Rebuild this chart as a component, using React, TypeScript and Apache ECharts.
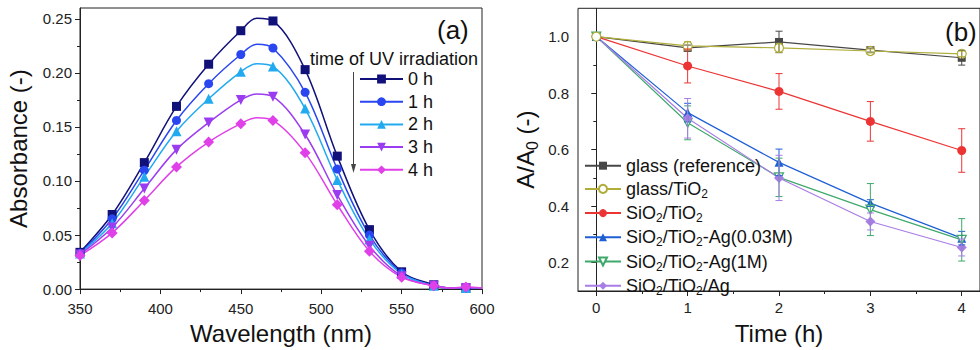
import React, { useEffect, useRef } from "react";
import * as echarts from "echarts";

const FONT = "'Liberation Sans', Arial, Helvetica, sans-serif";

// ---------- Panel (a): absorbance spectra ----------
const wavelengths = [350, 370, 390, 410, 430, 450, 460, 470, 490, 510, 530, 550, 570, 580, 590, 600];
const markerShown = [true, true, true, true, true, true, false, true, true, true, true, true, true, false, true, false];
const abs0h = [0.034, 0.069, 0.117, 0.169, 0.208, 0.239, 0.2505, 0.248, 0.203, 0.123, 0.055, 0.016, 0.004, 0.001, 0.001, 0.001];
const abs1h = [0.033, 0.065, 0.110, 0.156, 0.190, 0.217, 0.2265, 0.223, 0.182, 0.111, 0.050, 0.015, 0.003, 0.001, 0.001, 0.001];
const abs2h = [0.033, 0.061, 0.104, 0.146, 0.176, 0.201, 0.2085, 0.206, 0.167, 0.101, 0.046, 0.014, 0.003, 0.001, 0.001, 0.001];
const abs3h = [0.032, 0.057, 0.093, 0.129, 0.154, 0.175, 0.1805, 0.178, 0.143, 0.087, 0.040, 0.012, 0.003, 0.001, 0.001, 0.001];
const abs4h = [0.031, 0.052, 0.082, 0.113, 0.136, 0.153, 0.1585, 0.156, 0.126, 0.078, 0.035, 0.011, 0.003, 0.001, 0.002, 0.001];
const spectraNames = ["0 h", "1 h", "2 h", "3 h", "4 h"];
const absTicks = [0, 0.05, 0.1, 0.15, 0.2, 0.25];
const absMinorTicks = [0.025, 0.075, 0.125, 0.175, 0.225];

// ---------- Panel (b): A/A0 vs time ----------
const timeH = [0, 1, 2, 3, 4];
const glassRef = [1.0, 0.96, 0.981, 0.952, 0.925];
const glassRefErr = [0, 0.01, 0.038, 0.007, 0.026];
const glassTiO2 = [1.0, 0.967, 0.96, 0.949, 0.939];
const glassTiO2Err = [0, 0.015, 0.016, 0.007, 0.01];
const sio2TiO2 = [1.0, 0.896, 0.806, 0.7, 0.597];
const sio2TiO2Err = [0, 0.06, 0.063, 0.07, 0.077];
const ag003 = [1.0, 0.731, 0.555, 0.411, 0.287];
const ag003Err = [0, 0.033, 0.047, 0.012, 0.024];
const ag1M = [1.0, 0.695, 0.502, 0.388, 0.281];
const ag1MErr = [0, 0.06, 0.068, 0.092, 0.075];
const agSep = [1.0, 0.711, 0.5, 0.346, 0.254];
const agSepErr = [0, 0.07, 0.08, 0.03, 0.03];
const ratioNames = [
  "glass (reference)",
  "glass/TiO2",
  "SiO2/TiO2",
  "SiO2/TiO2-Ag(0.03M)",
  "SiO2/TiO2-Ag(1M)",
  "SiO2/TiO2/Ag",
];
const timeTicks = [0, 1, 2, 3, 4];
const timeMinorTicks = [0.5, 1.5, 2.5, 3.5];
const ratioTicks = [0.2, 0.4, 0.6, 0.8, 1.0];
const ratioMinorTicks = [0.3, 0.5, 0.7, 0.9];

const AXIS = "#222";

function spectrumSeries(name: string, vals: number[], color: string, symbol: string, size: number, rotate = 0) {
  return {
    type: "line",
    name,
    xAxisIndex: 0,
    yAxisIndex: 0,
    smooth: 0.35,
    symbol,
    symbolSize: size,
    symbolRotate: rotate,
    showAllSymbol: true,
    data: wavelengths.map((w, i) =>
      markerShown[i] ? { value: [w, vals[i]] } : { value: [w, vals[i]], symbol: "none" }
    ),
    lineStyle: { color, width: 1.5 },
    itemStyle: { color },
    emphasis: { disabled: true },
    z: 2,
  };
}

function ratioSeries(name: string, vals: number[], color: string, symbol: string, size: number, open = false, rotate = 0, z = 2) {
  return {
    type: "line",
    name,
    xAxisIndex: 1,
    yAxisIndex: 2,
    symbol,
    symbolSize: size,
    symbolRotate: rotate,
    data: timeH.map((t, i) => [t, vals[i]]),
    lineStyle: { color, width: 1.2 },
    itemStyle: open ? { color: "#fff", borderColor: color, borderWidth: 1.2 } : { color },
    emphasis: { disabled: true },
    z,
  };
}

function errorSeries(vals: number[], errs: number[], color: string) {
  return {
    type: "custom",
    xAxisIndex: 1,
    yAxisIndex: 2,
    silent: true,
    z: 4,
    encode: { x: 0, y: [1, 2] },
    data: timeH
      .map((t, i) => [t, vals[i] - errs[i], vals[i] + errs[i]])
      .filter((_, i) => errs[i] > 0),
    renderItem: (_params: any, api: any) => {
      const lo = api.coord([api.value(0), api.value(1)]);
      const hi = api.coord([api.value(0), api.value(2)]);
      const w = 3.5;
      const st = { stroke: color, lineWidth: 1 };
      return {
        type: "group",
        children: [
          { type: "line", shape: { x1: hi[0], y1: hi[1], x2: lo[0], y2: lo[1] }, style: st },
          { type: "line", shape: { x1: hi[0] - w, y1: hi[1], x2: hi[0] + w, y2: hi[1] }, style: st },
          { type: "line", shape: { x1: lo[0] - w, y1: lo[1], x2: lo[0] + w, y2: lo[1] }, style: st },
        ],
      };
    },
  };
}

const C0 = "#11117a";
const C1 = "#2a46f0";
const C2 = "#22aaf0";
const C3 = "#9b3cf0";
const C4 = "#e040e8";

const RG = "#474747";
const RO = "#b0ad3a";
const RR = "#ec3434";
const RB = "#1f5fd6";
const RGn = "#3fa86c";
const RP = "#a87de6";

export default function App() {
  const ref = useRef<HTMLDivElement>(null);

  useEffect(() => {
    if (!ref.current) return;
    const chart = echarts.init(ref.current, null, { renderer: "svg" });

    const subRichLegend = {
      s: { fontSize: 12, lineHeight: 12, padding: [9, 0, 0, 0], verticalAlign: "top", fontFamily: FONT, color: "#111" },
    };

    const option: any = {
      animation: false,
      backgroundColor: "#fff",
      textStyle: { fontFamily: FONT },
      grid: [
        { left: 80, top: 8, width: 402, height: 293.5, show: true, borderColor: AXIS, borderWidth: 1, containLabel: false },
        { left: 578, top: 8.3, width: 403.6, height: 284.3, show: true, borderColor: AXIS, borderWidth: 1, containLabel: false },
      ],
      xAxis: [
        {
          type: "value",
          gridIndex: 0,
          min: 350,
          max: 600,
          interval: 50,
          name: "Wavelength (nm)",
          nameLocation: "middle",
          nameGap: 31,
          nameTextStyle: { fontSize: 24, color: "#111", fontFamily: FONT },
          axisLine: { lineStyle: { color: AXIS, width: 1 } },
          axisTick: { length: 5, lineStyle: { color: AXIS } },
          minorTick: { show: true, splitNumber: 2, length: 3, lineStyle: { color: AXIS } },
          axisLabel: { fontSize: 15, color: "#222", margin: 12, fontFamily: FONT },
          splitLine: { show: false },
          minorSplitLine: { show: false },
        },
        {
          type: "value",
          gridIndex: 1,
          min: -0.2,
          max: 4.2,
          name: "Time (h)",
          nameLocation: "middle",
          nameGap: 30,
          nameTextStyle: { fontSize: 24, color: "#111", fontFamily: FONT },
          axisLine: { lineStyle: { color: AXIS, width: 1 } },
          axisTick: { length: 5, lineStyle: { color: AXIS }, customValues: timeTicks },
          axisLabel: { fontSize: 15, color: "#222", margin: 9, fontFamily: FONT, customValues: timeTicks },
          splitLine: { show: false },
        },
        {
          type: "value",
          gridIndex: 1,
          min: -0.2,
          max: 4.2,
          position: "bottom",
          offset: 0,
          axisLine: { show: false },
          axisTick: { length: 3, lineStyle: { color: AXIS }, customValues: timeMinorTicks },
          axisLabel: { show: false },
          splitLine: { show: false },
        },
      ],
      yAxis: [
        {
          type: "value",
          gridIndex: 0,
          min: 0,
          max: 0.26,
          name: "Absorbance (-)",
          nameLocation: "middle",
          nameGap: 50,
          nameRotate: 90,
          nameTextStyle: { fontSize: 24, color: "#111", fontFamily: FONT },
          axisLine: { show: true, lineStyle: { color: AXIS, width: 1 } },
          axisTick: { show: true, length: 5, lineStyle: { color: AXIS }, customValues: absTicks },
          axisLabel: {
            fontSize: 15,
            color: "#222",
            margin: 8,
            fontFamily: FONT,
            customValues: absTicks,
            formatter: (v: number) => v.toFixed(2),
          },
          splitLine: { show: false },
        },
        {
          type: "value",
          gridIndex: 0,
          min: 0,
          max: 0.26,
          position: "left",
          offset: 0,
          axisLine: { show: false },
          axisTick: { show: true, length: 3, lineStyle: { color: AXIS }, customValues: absMinorTicks },
          axisLabel: { show: false },
          splitLine: { show: false },
        },
        {
          type: "value",
          gridIndex: 1,
          min: 0.1,
          max: 1.1,
          name: "A/A{s|0} (-)",
          nameLocation: "middle",
          nameGap: 38,
          nameRotate: 90,
          nameTextStyle: {
            fontSize: 24,
            lineHeight: 30,
            color: "#111",
            fontFamily: FONT,
            rich: {
              s: { fontSize: 16, lineHeight: 16, padding: [14, 0, 0, 0], verticalAlign: "top", color: "#111", fontFamily: FONT },
            },
          },
          axisLine: { show: true, lineStyle: { color: AXIS, width: 1 } },
          axisTick: { show: true, length: 5, lineStyle: { color: AXIS }, customValues: ratioTicks },
          axisLabel: {
            fontSize: 15,
            color: "#222",
            margin: 9,
            fontFamily: FONT,
            customValues: ratioTicks,
            formatter: (v: number) => v.toFixed(1),
          },
          splitLine: { show: false },
        },
        {
          type: "value",
          gridIndex: 1,
          min: 0.1,
          max: 1.1,
          position: "left",
          offset: 0,
          axisLine: { show: false },
          axisTick: { show: true, length: 3, lineStyle: { color: AXIS }, customValues: ratioMinorTicks },
          axisLabel: { show: false },
          splitLine: { show: false },
        },
      ],
      legend: [
        {
          data: spectraNames,
          orient: "vertical",
          left: 359,
          top: 70,
          padding: 0,
          itemWidth: 43,
          itemHeight: 11,
          itemGap: 4.7,
          selectedMode: false,
          textStyle: { fontSize: 18, color: "#111", fontFamily: FONT, lineHeight: 18 },
        },
        {
          data: ratioNames,
          orient: "vertical",
          left: 584,
          top: 155.7,
          padding: 0,
          itemWidth: 36,
          itemHeight: 10,
          itemGap: 3.2,
          selectedMode: false,
          formatter: (n: string) => n.replace(/O2/g, "O{s|2}"),
          textStyle: { fontSize: 18, lineHeight: 20, color: "#111", fontFamily: FONT, rich: subRichLegend },
        },
      ],
      graphic: [
        {
          type: "text",
          x: 310,
          y: 58.5,
          style: { text: "time of UV irradiation", font: `18px ${FONT}`, fill: "#111", textVerticalAlign: "middle" },
        },
        {
          type: "text",
          x: 437,
          y: 30,
          style: { text: "(a)", font: `26px ${FONT}`, fill: "#111", textVerticalAlign: "middle" },
        },
        {
          type: "text",
          x: 945,
          y: 32,
          style: { text: "(b)", font: `26px ${FONT}`, fill: "#111", textVerticalAlign: "middle" },
        },
        {
          type: "line",
          shape: { x1: 353.5, y1: 72, x2: 353.5, y2: 166 },
          style: { stroke: "#444", lineWidth: 1 },
        },
        {
          type: "polygon",
          shape: { points: [[351, 164], [356, 164], [353.5, 173]] },
          style: { fill: "#444" },
        },
      ],
      series: [
        spectrumSeries(spectraNames[0], abs0h, C0, "rect", 9),
        spectrumSeries(spectraNames[1], abs1h, C1, "circle", 9),
        spectrumSeries(spectraNames[2], abs2h, C2, "triangle", 10),
        spectrumSeries(spectraNames[3], abs3h, C3, "triangle", 10, 180),
        spectrumSeries(spectraNames[4], abs4h, C4, "diamond", 11),

        ratioSeries(ratioNames[0], glassRef, RG, "rect", 8),
        ratioSeries(ratioNames[1], glassTiO2, RO, "circle", 9, true, 0, 3),
        ratioSeries(ratioNames[2], sio2TiO2, RR, "circle", 9),
        ratioSeries(ratioNames[3], ag003, RB, "triangle", 9),
        ratioSeries(ratioNames[4], ag1M, RGn, "triangle", 9, true, 180),
        ratioSeries(ratioNames[5], agSep, RP, "diamond", 10),

        errorSeries(glassRef, glassRefErr, RG),
        errorSeries(glassTiO2, glassTiO2Err, RO),
        errorSeries(sio2TiO2, sio2TiO2Err, RR),
        errorSeries(ag003, ag003Err, RB),
        errorSeries(ag1M, ag1MErr, RGn),
        errorSeries(agSep, agSepErr, RP),
      ],
    };

    chart.setOption(option);
    return () => chart.dispose();
  }, []);

  return <div ref={ref} style={{ width: 980, height: 350, position: "absolute", left: 0, top: 0 }} />;
}
